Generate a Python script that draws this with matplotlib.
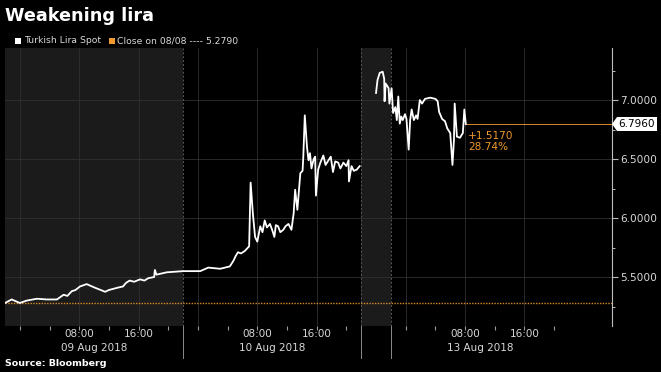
"""
Weakening lira -- Bloomberg-style intraday chart of USD/TRY spot, 9-13 Aug 2018.
x axis is 'session hours' since 22:00 on 8 Aug; the weekend is squeezed into a short grey block.
"""

import matplotlib.pyplot as plt
from matplotlib.patches import Polygon, Rectangle
from matplotlib.ticker import FixedLocator

# ---------------------------------------------------------------------------
# Data
# ---------------------------------------------------------------------------
# 9-10 Aug, hours since 22:00 on 8 Aug
hours_thu_fri = [
    0.0, 0.9, 2.0, 2.9, 4.3, 5.6, 7.0, 7.9, 8.4, 9.0, 9.5, 10.1, 11.0, 12.1,
    13.5, 14.0, 14.6, 15.2, 15.9, 16.3, 16.8, 17.4, 18.2, 18.8, 19.3, 20.1,
    20.2, 20.4, 21.8, 24.0, 26.3, 27.4, 29.0, 30.3, 30.8, 31.1, 31.4, 31.8,
    32.3, 32.9, 33.1, 33.4, 33.7, 34.0, 34.4, 34.7, 35.0, 35.3, 35.7, 36.0,
    36.3, 36.5, 36.8, 37.1, 37.5, 37.8, 38.2, 38.6, 38.9, 39.1, 39.4, 39.8,
    40.1, 40.2, 40.4, 40.7, 40.9, 41.1, 41.3, 41.6, 41.8, 41.9, 42.2, 42.5,
    42.9, 43.2, 43.6, 43.9, 44.2, 44.5, 44.9, 45.2, 45.6, 46.0, 46.3, 46.35,
    46.7, 47.0, 47.4, 47.8,
]
lira_thu_fri = [
    5.28, 5.31, 5.28, 5.30, 5.316, 5.31, 5.31, 5.35, 5.34, 5.38, 5.39, 5.42,
    5.44, 5.41, 5.375, 5.39, 5.40, 5.41, 5.42, 5.45, 5.47, 5.46, 5.48, 5.47,
    5.49, 5.50, 5.56, 5.52, 5.54, 5.55, 5.55, 5.58, 5.57, 5.59, 5.64, 5.68,
    5.71, 5.70, 5.72, 5.76, 6.30, 6.04, 5.84, 5.80, 5.93, 5.88, 5.98, 5.92,
    5.95, 5.90, 5.84, 5.94, 5.93, 5.88, 5.90, 5.93, 5.95, 5.90, 6.04, 6.24,
    6.07, 6.38, 6.40, 6.52, 6.87, 6.60, 6.49, 6.55, 6.42, 6.50, 6.52, 6.19,
    6.41, 6.47, 6.53, 6.45, 6.49, 6.52, 6.39, 6.48, 6.47, 6.42, 6.47, 6.44,
    6.49, 6.31, 6.44, 6.40, 6.41, 6.44,
]

# 12 Aug evening and 13 Aug
hours_mon = [
    50.0, 50.2, 50.5, 50.9, 51.1, 51.15, 51.3, 51.7, 51.8, 52.1, 52.3, 52.6,
    52.8, 53.0, 53.2, 53.4, 53.6, 53.9, 54.1, 54.4, 54.6, 54.8, 55.1, 55.4,
    55.6, 55.9, 56.2, 56.6, 57.3, 58.0, 58.3, 58.5, 58.9, 59.3, 59.6, 60.0,
    60.3, 60.5, 60.6, 60.9, 61.3, 61.7, 61.9, 62.1,
]
lira_mon = [
    7.06, 7.17, 7.23, 7.24, 7.18, 6.99, 7.14, 7.10, 6.97, 7.10, 6.89, 6.94,
    6.83, 7.03, 6.80, 6.86, 6.83, 6.88, 6.84, 6.58, 6.83, 6.92, 6.83, 6.87,
    6.84, 7.00, 6.97, 7.01, 7.02, 7.01, 6.99, 6.90, 6.84, 6.82, 6.76, 6.72,
    6.45, 6.66, 6.97, 6.69, 6.68, 6.72, 6.92, 6.796,
]

prev_close = 5.2790
last_price = 6.7960

day_labels = ["09 Aug 2018", "10 Aug 2018", "13 Aug 2018"]
day_midnight = [2, 26, 54]       # 00:00 of each day on the session-hour axis
session_breaks = [24, 48, 52]    # 22:00 roll-overs + end of the squeezed weekend
off_hours = [(0, 24), (48, 52)]  # grey blocks

# ---------------------------------------------------------------------------
# Style
# ---------------------------------------------------------------------------
BG = "#000000"
SHADE = "#1b1b1b"
GRID = "#303030"
TXT = "#d8d8d8"
ORANGE = "#ee9a2e"
W, H = 661, 372

plt.rcParams["font.family"] = ["DejaVu Sans"]

fig = plt.figure(figsize=(W / 100, H / 100), dpi=100)
fig.patch.set_facecolor(BG)

# axes box in pixels: left 5, right 612, top 48, bottom 326
ax = fig.add_axes([5 / W, (H - 326) / H, 607 / W, 278 / H])
ax.set_facecolor(BG)
ax.set_xlim(0, 81.8)
ax.set_ylim(5.085, 7.441)

for a, b in off_hours:
    ax.axvspan(a, b, color=SHADE, lw=0, zorder=0)

# gridlines at 00:00 / 08:00 / 16:00 of each day, and at the priced levels
for d in day_midnight:
    for h in (0, 8, 16):
        ax.axvline(d + h, color=GRID, lw=0.6, zorder=1)
for y in (5.5, 6.0, 6.5, 7.0):
    ax.axhline(y, color=GRID, lw=0.6, zorder=1)
for s in session_breaks:
    ax.axvline(s, color="#5a5a5a", lw=0.7, ls=(0, (2, 2)), zorder=1)

# previous close (dotted) and last price (solid) in orange
ax.axhline(prev_close, color=ORANGE, lw=1.0, ls=(0, (1, 1)), alpha=0.9, zorder=2)
ax.hlines(last_price, hours_mon[-1], 81.8, color="#d98a2a", lw=0.7, zorder=2)

ax.plot(hours_thu_fri, lira_thu_fri, color="white", lw=1.3, zorder=3)
ax.plot(hours_mon, lira_mon, color="white", lw=1.3, zorder=3)

chg = last_price - prev_close
ax.text(hours_mon[-1] + 0.3, last_price - 0.06, f"+{chg:.4f}\n{chg / prev_close:.2%}",
        color=ORANGE, fontsize=7.6, ha="left", va="top", linespacing=1.15, zorder=4)

# ---------------------------------------------------------------------------
# Axes furniture
# ---------------------------------------------------------------------------
for side in ("left", "top", "bottom"):
    ax.spines[side].set_visible(False)
ax.spines["right"].set_color("#bdbdbd")
ax.spines["right"].set_linewidth(0.8)

ax.yaxis.tick_right()
ax.set_yticks([5.5, 6.0, 6.5, 7.0])
ax.set_yticklabels([f"{v:.4f}" for v in (5.5, 6.0, 6.5, 7.0)])
ax.yaxis.set_minor_locator(FixedLocator([5.25, 5.75, 6.25, 6.75, 7.25]))
ax.tick_params(axis="y", which="major", colors="#bdbdbd", labelcolor=TXT,
               length=4, width=0.8, labelsize=7.6, pad=2)
ax.tick_params(axis="y", which="minor", colors="#bdbdbd", length=2.5, width=0.7)

# 4-hourly ticks, labelled at 08:00 and 16:00 only
xt = [d + h for d in day_midnight for h in range(0, 24, 4)]
ax.set_xticks(xt)
ax.set_xticklabels(["" for _ in xt])
ax.tick_params(axis="x", colors="#9a9a9a", length=3, width=0.8, pad=0)
xtrans = ax.get_xaxis_transform()
for d, lab in zip(day_midnight, day_labels):
    for h, hl in ((8, "08:00"), (16, "16:00")):
        ax.text(d + h, -0.012, hl, transform=xtrans, ha="center", va="top",
                color=TXT, fontsize=7.5, clip_on=False)
    ax.text(d + 10, -0.062, lab, transform=xtrans, ha="center", va="top",
            color=TXT, fontsize=7.5, clip_on=False)
for s in session_breaks:
    ax.plot([s, s], [0, -0.115], transform=xtrans, color="#8a8a8a", lw=0.7, clip_on=False)

# last-price tag on the right axis: white box with a left-pointing tip
tag = [(612, 124), (617, 117), (657, 117), (657, 131), (617, 131)]
fig.patches.append(Polygon([(x / W, 1 - y / H) for x, y in tag], closed=True,
                           facecolor="white", edgecolor="none",
                           transform=fig.transFigure))
fig.text(637 / W, 1 - 124 / H, f"{last_price:.4f}", ha="center", va="center",
         color="black", fontsize=7.6)

# ---------------------------------------------------------------------------
# Title, legend line and source
# ---------------------------------------------------------------------------
fig.text(5 / W, 1 - 16 / H, "Weakening lira", ha="left", va="center",
         color="white", fontsize=12.7, fontweight="bold")

fig.patches.append(Rectangle((15 / W, 1 - 44 / H), 6 / W, 6 / H, facecolor="white",
                             edgecolor="none", transform=fig.transFigure))
fig.text(24 / W, 1 - 40.5 / H, "Turkish Lira Spot", ha="left", va="center",
         color=TXT, fontsize=6.7)
fig.patches.append(Rectangle((109 / W, 1 - 44 / H), 6 / W, 6 / H, facecolor=ORANGE,
                             edgecolor="none", transform=fig.transFigure))
fig.text(117 / W, 1 - 40.5 / H, f"Close on 08/08 ---- {prev_close:.4f}", ha="left",
         va="center", color=TXT, fontsize=6.7)

fig.text(5 / W, 1 - 363 / H, "Source: Bloomberg", ha="left", va="center",
         color="white", fontsize=6.8, fontweight="bold")

fig.savefig("out.png", dpi=100, facecolor=BG)
